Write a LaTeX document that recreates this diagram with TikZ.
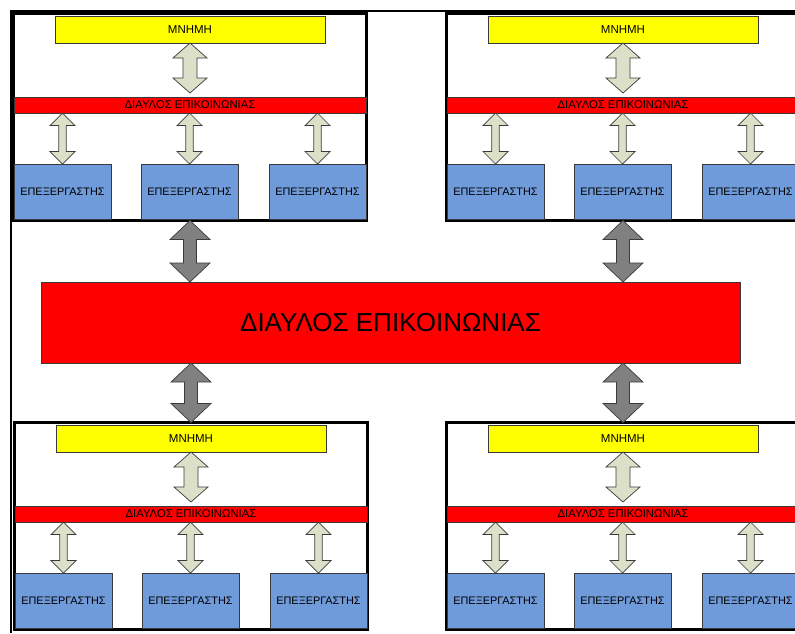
\documentclass[tikz,border=0pt]{standalone}
\usepackage{fontspec}
\setmainfont{Liberation Sans}
\usetikzlibrary{calc}

\definecolor{memyellow}{HTML}{FFFF00}
\definecolor{busred}{HTML}{FF0000}
\definecolor{cpublue}{HTML}{6F9BDA}
\definecolor{lightarrow}{HTML}{DDE0C8}
\definecolor{darkarrow}{HTML}{808080}
\definecolor{edgegray}{HTML}{3A3A3A}

\tikzset{
  box/.style={rectangle, draw=edgegray, line width=0.7pt, inner sep=0pt, outer sep=0pt, align=center},
  frame/.style={rectangle, draw=black, line width=3.5pt, inner sep=0pt, outer sep=0pt},
  mem/.style={box, fill=memyellow, minimum width=270pt, minimum height=27pt, font=\fontsize{11.5}{13}\selectfont},
  localbus/.style={box, fill=busred, minimum width=352pt, minimum height=16pt, font=\fontsize{11.3}{13}\selectfont},
  cpu/.style={box, fill=cpublue, minimum width=97pt, minimum height=55pt, font=\fontsize{10.9}{13}\selectfont},
  mainbus/.style={box, fill=busred, minimum width=699pt, minimum height=81pt, font=\fontsize{26}{30}\selectfont},
  light/.style={fill=lightarrow, draw=edgegray, line width=0.7pt, line join=miter},
  dark/.style={fill=darkarrow, draw=edgegray, line width=0.7pt, line join=miter},
}

% Two-headed block arrow from #2 (top) down to #3 (bottom).
% #4 head half width, #5 shaft half width, #6 head length, #7 gap left above #3
\newcommand\dualarrow[7]{%
  \path[#1] let \p1=(#2), \p2=(#3) in
    (\x1,\y1) -- (\x1+#4,\y1-#6) -- (\x1+#5,\y1-#6)
    -- (\x1+#5,\y2+#7+#6) -- (\x1+#4,\y2+#7+#6) -- (\x1,\y2+#7)
    -- (\x1-#4,\y2+#7+#6) -- (\x1-#5,\y2+#7+#6)
    -- (\x1-#5,\y1-#6) -- (\x1-#4,\y1-#6) -- cycle;
}

% One node of the system: memory, local bus and three processors in a frame
\newcommand\cluster[3]{%
  \begin{scope}[shift={(#2,#3)}]
    \node[frame, minimum width=353pt, minimum height=207pt] (#1) at (190,117) {};
    \node[mem] (#1mem) at (190,29.5) {ΜΝΗΜΗ};
    \node[localbus] (#1bus) at (190,105) {ΔΙΑΥΛΟΣ ΕΠΙΚΟΙΝΩΝΙΑΣ};
    \node[cpu] (#1p1) at (62.5,191.5) {ΕΠΕΞΕΡΓΑΣΤΗΣ};
    \node[cpu] (#1p2) at (189.5,191.5) {ΕΠΕΞΕΡΓΑΣΤΗΣ};
    \node[cpu] (#1p3) at (317.5,191.5) {ΕΠΕΞΕΡΓΑΣΤΗΣ};
    \dualarrow{light}{#1mem.south}{#1bus.north}{17pt}{7pt}{15pt}{4pt}
    \dualarrow{light}{#1bus.south -| #1p1.north}{#1p1.north}{12.5pt}{3.7pt}{12.5pt}{0pt}
    \dualarrow{light}{#1bus.south -| #1p2.north}{#1p2.north}{12.5pt}{3.7pt}{12.5pt}{0pt}
    \dualarrow{light}{#1bus.south -| #1p3.north}{#1p3.north}{12.5pt}{3.7pt}{12.5pt}{0pt}
  \end{scope}%
}

\begin{document}
\begin{tikzpicture}[x=1pt, y=-1pt]
  \useasboundingbox (0,0) rectangle (795,633);
  \clip (0,0) rectangle (795,633);

  % page rules
  \coordinate (ruleTL) at (11.3,10.5);
  \coordinate (ruleTR) at (795,10.5);
  \coordinate (ruleBL) at (11.3,633);
  \draw[line width=2pt] (ruleTR) -- (ruleTL) -- (ruleBL);

  \cluster{tl}{0}{0}
  \cluster{tr}{433}{0}
  \cluster{bl}{1}{409}
  \cluster{br}{433}{409}

  \node[mainbus] (main) at (390.5,322.5) {ΔΙΑΥΛΟΣ ΕΠΙΚΟΙΝΩΝΙΑΣ};

  \dualarrow{dark}{tl.south}{main.north -| tl.south}{20pt}{6.5pt}{19pt}{0pt}
  \dualarrow{dark}{tr.south}{main.north -| tr.south}{20pt}{6.5pt}{19pt}{0pt}
  \dualarrow{dark}{main.south -| bl.north}{bl.north}{20pt}{6.5pt}{19pt}{0pt}
  \dualarrow{dark}{main.south -| br.north}{br.north}{20pt}{6.5pt}{19pt}{0pt}
\end{tikzpicture}
\end{document}
